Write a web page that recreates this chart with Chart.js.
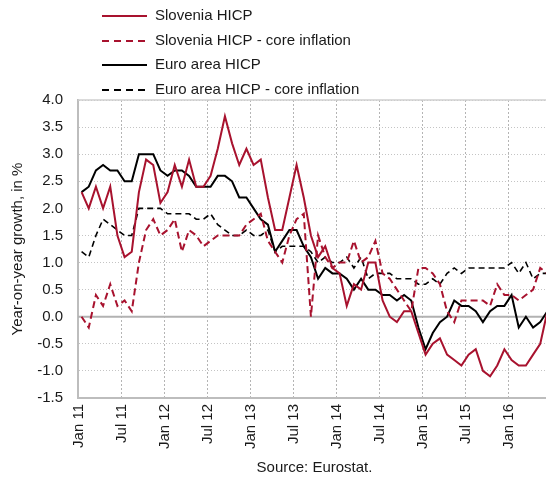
<!DOCTYPE html>
<html>
<head>
<meta charset="utf-8">
<title>HICP - Slovenia and euro area</title>
<script src="https://cdn.jsdelivr.net/npm/chart.js@4.4.0/dist/chart.umd.min.js"></script>
<style>
  html, body { margin: 0; padding: 0; background: #fff; overflow: hidden; }
  /* plot runs slightly past the right edge, as in the source figure */
  #wrap { width: 546px; height: 480px; overflow: hidden; position: relative; }
  #chart { position: absolute; left: 0; top: 0; }
</style>
</head>
<body>
<div id="wrap"><canvas id="chart" width="551" height="480"></canvas></div>
<script>
// categories: Jan 2011 .. Jun 2016, monthly
var monthNames = ['Jan', 'Feb', 'Mar', 'Apr', 'May', 'Jun', 'Jul', 'Aug', 'Sep', 'Oct', 'Nov', 'Dec'];
var years = ['11', '12', '13', '14', '15', '16'];
var months = [];
years.forEach(function (y) {
  monthNames.forEach(function (m) { months.push(m + ' ' + y); });
});
months = months.slice(0, 66);

// y-o-y growth, in %
var sloHicp = [
  2.3, 2.0, 2.4, 2.0, 2.4, 1.5, 1.1, 1.2, 2.3, 2.9, 2.8, 2.1,
  2.3, 2.8, 2.4, 2.9, 2.4, 2.4, 2.6, 3.1, 3.7, 3.2, 2.8, 3.1,
  2.8, 2.9, 2.2, 1.6, 1.6, 2.2, 2.8, 2.2, 1.5, 1.1, 1.3, 0.9,
  0.8, 0.2, 0.6, 0.5, 1.0, 1.0, 0.3, 0.0, -0.1, 0.1, 0.1, -0.3,
  -0.7, -0.5, -0.4, -0.7, -0.8, -0.9, -0.7, -0.6, -1.0, -1.1, -0.9, -0.6,
  -0.8, -0.9, -0.9, -0.7, -0.5, 0.1
];
var sloCore = [
  0.0, -0.2, 0.4, 0.2, 0.6, 0.2, 0.3, 0.1, 1.0, 1.6, 1.8, 1.5,
  1.6, 1.8, 1.2, 1.6, 1.5, 1.3, 1.4, 1.5, 1.5, 1.5, 1.5, 1.7,
  1.8, 1.9, 1.4, 1.2, 1.0, 1.5, 1.8, 1.9, 0.0, 1.5, 1.1, 0.9,
  1.0, 1.0, 1.4, 1.0, 1.1, 1.4, 0.8, 0.7, 0.5, 0.3, 0.1, 0.9,
  0.9, 0.8, 0.6, 0.1, -0.1, 0.3, 0.3, 0.3, 0.3, 0.2, 0.6, 0.4,
  0.4, 0.3, 0.4, 0.5, 0.9, 0.8
];
var euroHicp = [
  2.3, 2.4, 2.7, 2.8, 2.7, 2.7, 2.5, 2.5, 3.0, 3.0, 3.0, 2.7,
  2.6, 2.7, 2.7, 2.6, 2.4, 2.4, 2.4, 2.6, 2.6, 2.5, 2.2, 2.2,
  2.0, 1.8, 1.7, 1.2, 1.4, 1.6, 1.6, 1.3, 1.1, 0.7, 0.9, 0.8,
  0.8, 0.7, 0.5, 0.7, 0.5, 0.5, 0.4, 0.4, 0.3, 0.4, 0.3, -0.2,
  -0.6, -0.3, -0.1, 0.0, 0.3, 0.2, 0.2, 0.1, -0.1, 0.1, 0.2, 0.2,
  0.4, -0.2, 0.0, -0.2, -0.1, 0.1
];
var euroCore = [
  1.2, 1.1, 1.5, 1.8, 1.7, 1.6, 1.5, 1.5, 2.0, 2.0, 2.0, 2.0,
  1.9, 1.9, 1.9, 1.9, 1.8, 1.8, 1.9, 1.7, 1.6, 1.5, 1.5, 1.6,
  1.5, 1.5, 1.6, 1.2, 1.3, 1.3, 1.3, 1.3, 1.2, 1.0, 1.1, 1.0,
  1.0, 1.1, 0.9, 1.1, 0.7, 0.8, 0.8, 0.8, 0.7, 0.7, 0.7, 0.6,
  0.6, 0.7, 0.6, 0.8, 0.9, 0.8, 0.9, 0.9, 0.9, 0.9, 0.9, 0.9,
  1.0, 0.8, 1.0, 0.7, 0.8, 0.8
];

var RED = '#a8122e';
var TXT = '#1a1a1a';
var FONT = '"Liberation Sans", Arial, sans-serif';
var GRID = '#c4c4c4';
var VGRID = '#b4b4b4';

// top frame line + solid zero line
var framePlugin = {
  id: 'frame',
  beforeDatasetsDraw: function (chart) {
    var a = chart.chartArea, c = chart.ctx;
    var y0 = chart.scales.y.getPixelForValue(0);
    c.save();
    c.strokeStyle = '#cfcfcf';
    c.lineWidth = 1.5;
    c.beginPath();
    c.moveTo(a.left, a.top);
    c.lineTo(a.right, a.top);
    c.stroke();
    c.strokeStyle = '#b2b2b2';
    c.lineWidth = 2;
    c.beginPath();
    c.moveTo(a.left, y0);
    c.lineTo(a.right, y0);
    c.stroke();
    c.restore();
  }
};

// legend stacked in one column above the plot
var legendPlugin = {
  id: 'stackLegend',
  afterDraw: function (chart) {
    var c = chart.ctx;
    var rows = [16, 41, 65, 90];
    c.save();
    c.font = '15px ' + FONT;
    c.textBaseline = 'middle';
    chart.data.datasets.forEach(function (ds, i) {
      var y = rows[i];
      c.strokeStyle = ds.borderColor;
      c.lineWidth = 2;
      c.setLineDash(ds.borderDash ? [7, 5] : []);
      c.beginPath();
      c.moveTo(102, y);
      c.lineTo(147, y);
      c.stroke();
      c.fillStyle = TXT;
      c.fillText(ds.label, 155, y);
    });
    c.restore();
  }
};

new Chart(document.getElementById('chart'), {
  type: 'line',
  data: {
    labels: months,
    datasets: [
      { label: 'Slovenia HICP', data: sloHicp, borderColor: RED, borderWidth: 2 },
      { label: 'Slovenia HICP - core inflation', data: sloCore, borderColor: RED, borderWidth: 2, borderDash: [7, 4] },
      { label: 'Euro area HICP', data: euroHicp, borderColor: '#000', borderWidth: 2 },
      { label: 'Euro area HICP - core inflation', data: euroCore, borderColor: '#000', borderWidth: 1.6, borderDash: [6, 4] }
    ]
  },
  options: {
    responsive: false,
    animation: false,
    layout: { padding: { top: 100, left: 0, right: 0, bottom: 0 } },
    elements: {
      point: { radius: 0 },
      line: { tension: 0, fill: false }
    },
    plugins: {
      legend: { display: false },
      tooltip: { enabled: false }
    },
    scales: {
      x: {
        offset: true,
        grid: {
          offset: true,
          drawTicks: false,
          lineWidth: 1,
          // only the half-yearly lines (Jan / Jul)
          color: function (ctx) {
            return (ctx.index > 0 && ctx.index % 6 === 0) ? VGRID : 'rgba(0,0,0,0)';
          }
        },
        border: { color: '#bdbdbd', width: 2, dash: [2, 2] },
        ticks: {
          autoSkip: false,
          minRotation: 90,
          maxRotation: 90,
          padding: 6,
          labelOffset: -3,
          color: TXT,
          font: { family: FONT, size: 15 },
          callback: function (v, i) { return i % 6 === 0 ? months[i] : ''; }
        },
        title: {
          display: true,
          text: 'Source: Eurostat.',
          color: TXT,
          font: { family: FONT, size: 15 },
          padding: { top: 0, bottom: 3 }
        },
        afterFit: function (s) {
          s.height = 82;
          s.paddingLeft = 0;
          s.paddingRight = 0;
        }
      },
      y: {
        min: -1.5,
        max: 4,
        grid: { drawTicks: false, color: GRID, lineWidth: 1 },
        border: { color: '#bdbdbd', width: 2, dash: [1, 2] },
        ticks: {
          stepSize: 0.5,
          padding: 15,
          color: TXT,
          font: { family: FONT, size: 15 },
          callback: function (v) { return v.toFixed(1); }
        },
        title: {
          display: true,
          text: 'Year-on-year growth, in %',
          color: TXT,
          font: { family: FONT, size: 15 },
          padding: { top: 9, bottom: 0 }
        },
        afterFit: function (s) { s.width = 78; }
      }
    }
  },
  plugins: [framePlugin, legendPlugin]
});
</script>
</body>
</html>
